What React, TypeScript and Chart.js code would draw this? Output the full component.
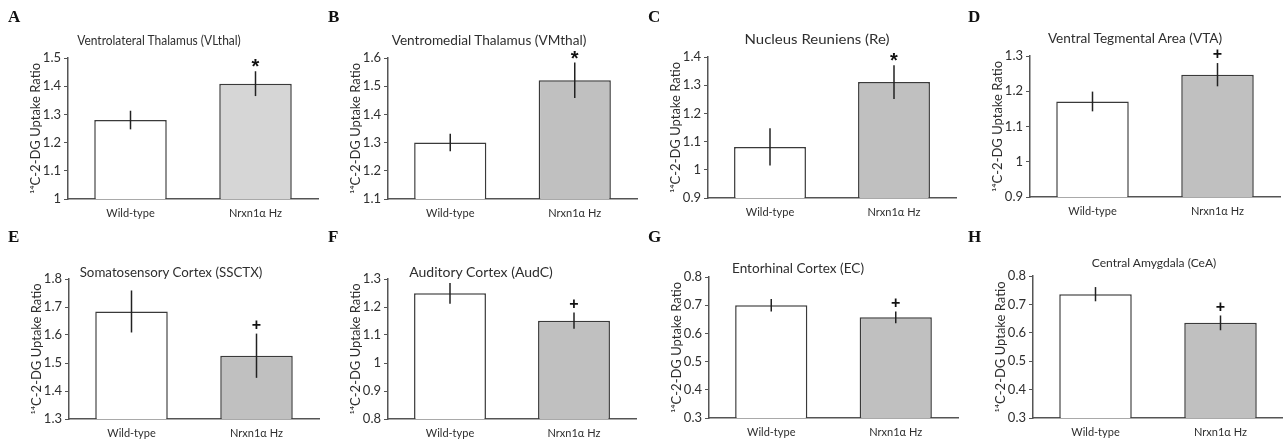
import React, { useEffect, useRef } from 'react';
import { Chart, registerables } from 'chart.js';

Chart.register(...registerables);

// ---------- data ----------
const panelLetters = ['A', 'B', 'C', 'D', 'E', 'F', 'G', 'H'];
const panelTitles = [
  'Ventrolateral Thalamus (VLthal)',
  'Ventromedial Thalamus (VMthal)',
  'Nucleus Reuniens (Re)',
  'Ventral Tegmental Area (VTA)',
  'Somatosensory Cortex (SSCTX)',
  'Auditory Cortex (AudC)',
  'Entorhinal Cortex (EC)',
  'Central Amygdala (CeA)',
];
const categories = ['Wild-type', 'Nrxn1α Hz'];
const wildTypeMeans = [1.28, 1.3, 1.081, 1.171, 1.684, 1.249, 0.7, 0.736];
const wildTypeErrors = [0.033, 0.031, 0.066, 0.028, 0.075, 0.037, 0.022, 0.025];
const nrxnMeans = [1.409, 1.521, 1.311, 1.247, 1.526, 1.151, 0.657, 0.635];
const nrxnErrors = [0.044, 0.063, 0.06, 0.033, 0.079, 0.029, 0.021, 0.026];
const yMins = [1, 1.1, 0.9, 0.9, 1.3, 0.8, 0.3, 0.3];
const yMaxs = [1.5, 1.6, 1.4, 1.3, 1.8, 1.3, 0.8, 0.8];
const yStep = 0.1;
const significance = ['*', '*', '*', '+', '+', '+', '+', '+'];
const yAxisTitle = '¹⁴C-2-DG Uptake Ratio';

// ---------- layout & style (page pixels) ----------
const layouts = [
  { x: 0, y: 0, w: 320, h: 220, L: 68, R: 318, T: 58, B: 199, tx: 159, ty: 41, tw: 164, ts: 13.5 },
  { x: 320, y: 0, w: 320, h: 220, L: 388, R: 637, T: 58, B: 199, tx: 489, ty: 40, tw: 195, ts: 14 },
  { x: 640, y: 0, w: 320, h: 220, L: 708, R: 956, T: 57, B: 198, tx: 817, ty: 39, tw: 145, ts: 14 },
  { x: 960, y: 0, w: 323, h: 220, L: 1030, R: 1280, T: 56, B: 197, tx: 1135, ty: 38, tw: 175, ts: 14 },
  { x: 0, y: 220, w: 320, h: 222, L: 69, R: 319, T: 279, B: 419, tx: 171, ty: 272, tw: 183, ts: 14 },
  { x: 320, y: 220, w: 320, h: 222, L: 388, R: 636, T: 279, B: 419, tx: 481, ty: 272, tw: 144, ts: 14 },
  { x: 640, y: 220, w: 320, h: 222, L: 709, R: 958, T: 277, B: 418, tx: 798, ty: 268, tw: 132, ts: 14 },
  { x: 960, y: 220, w: 323, h: 222, L: 1033, R: 1283, T: 276, B: 418, tx: 1154, ty: 263, tw: 125, ts: 12 },
];
const nrxnFills = ['#d6d6d6', '#c0c0c0', '#c0c0c0', '#c0c0c0', '#c0c0c0', '#c0c0c0', '#c0c0c0', '#c0c0c0'];
const FONT = 'Lato, "Open Sans", sans-serif';
const TEXT = '#2e2e2e';
const AXIS = '#555555';

function measure(text: string, size: number): number {
  const c = document.createElement('canvas').getContext('2d');
  if (!c) return 1;
  c.font = `${size}px Lato`;
  return c.measureText(text).width;
}

function Panel({ i }: { i: number }) {
  const ref = useRef<HTMLCanvasElement>(null);
  const lay = layouts[i];
  useEffect(() => {
    const canvas = ref.current;
    if (!canvas) return;
    const errorPlugin = {
      id: 'errorBars' + i,
      afterDatasetsDraw(chart: any) {
        const ctx = chart.ctx;
        const meta = chart.getDatasetMeta(0);
        const ys = chart.scales.y;
        const means = [wildTypeMeans[i], nrxnMeans[i]];
        const errs = [wildTypeErrors[i], nrxnErrors[i]];
        ctx.save();
        ctx.strokeStyle = '#222222';
        ctx.lineWidth = 1.5;
        meta.data.forEach((bar: any, k: number) => {
          const top = ys.getPixelForValue(means[k] + errs[k]);
          const bot = ys.getPixelForValue(means[k] - errs[k]);
          ctx.beginPath();
          ctx.moveTo(bar.x, top);
          ctx.lineTo(bar.x, bot);
          ctx.stroke();
        });
        const bar = meta.data[1];
        const top = ys.getPixelForValue(nrxnMeans[i] + nrxnErrors[i]);
        const sym = significance[i];
        ctx.fillStyle = '#111111';
        ctx.textAlign = 'center';
        ctx.textBaseline = 'middle';
        if (sym === '*') {
          ctx.font = 'bold 20px "Liberation Sans"';
          ctx.fillText(sym, bar.x, top - 3.5);
        } else {
          ctx.font = 'bold 16px "Liberation Sans"';
          ctx.fillText(sym, bar.x, top - 8);
        }
        ctx.restore();
      },
    };
    const yTitleSize = 13;
    const yTitleOffset = lay.L - lay.x - 32 - (yTitleSize * 1.2) / 2;
    const chart = new Chart(canvas, {
      type: 'bar',
      data: {
        labels: categories,
        datasets: [
          {
            data: [wildTypeMeans[i], nrxnMeans[i]],
            backgroundColor: ['#ffffff', nrxnFills[i]],
            borderColor: '#3a3a3a',
            borderWidth: 1.5,
            borderSkipped: false,
            barPercentage: 0.58,
            categoryPercentage: 1,
          },
        ],
      },
      options: {
        animation: false,
        responsive: false,
        layout: { padding: { top: lay.T - lay.y, right: lay.x + lay.w - lay.R, left: 0, bottom: 0 } },
        plugins: { legend: { display: false }, tooltip: { enabled: false }, title: { display: false } },
        scales: {
          x: {
            grid: { display: false, drawTicks: false },
            border: { display: true, color: AXIS, width: 1.5 },
            ticks: { color: TEXT, font: { family: FONT, size: 11 }, padding: 8 },
            afterFit: (s: any) => {
              s.height = lay.y + lay.h - lay.B;
            },
          },
          y: {
            min: yMins[i],
            max: yMaxs[i],
            ticks: {
              stepSize: yStep,
              color: TEXT,
              font: { family: FONT, size: 13 },
              padding: 3,
              callback: (v: any) => String(parseFloat(Number(v).toFixed(2))),
            },
            grid: { display: true, drawOnChartArea: false, drawTicks: true, tickLength: 4, color: AXIS, lineWidth: 1 },
            border: { display: true, color: AXIS, width: 1.5 },
            title: {
              display: true,
              text: yAxisTitle,
              color: TEXT,
              font: { family: FONT, size: yTitleSize },
              padding: { top: yTitleOffset, bottom: 0 },
            },
            afterFit: (s: any) => {
              s.width = lay.L - lay.x;
            },
          },
        },
      },
      plugins: [errorPlugin],
    } as any);
    return () => chart.destroy();
  }, [i]);

  const natural = measure(panelTitles[i], lay.ts);
  const sx = lay.tw / natural;
  return (
    <>
      <canvas
        ref={ref}
        width={lay.w}
        height={lay.h}
        style={{ position: 'absolute', left: lay.x, top: lay.y, width: lay.w, height: lay.h }}
      />
      <div
        style={{
          position: 'absolute',
          left: lay.x + 8,
          top: lay.y + 8,
          font: 'bold 17px "Liberation Serif", serif',
          lineHeight: '17px',
          color: '#111',
        }}
      >
        {panelLetters[i]}
      </div>
      <div
        style={{
          position: 'absolute',
          left: lay.tx,
          top: lay.ty,
          transform: `translate(-50%, -50%) scaleX(${sx})`,
          whiteSpace: 'nowrap',
          fontFamily: FONT,
          fontSize: lay.ts,
          lineHeight: 1,
          color: TEXT,
        }}
      >
        {panelTitles[i]}
      </div>
    </>
  );
}

export default function App() {
  return (
    <div style={{ position: 'absolute', left: 0, top: 0, width: 1283, height: 442, background: '#ffffff', overflow: 'hidden' }}>
      {layouts.map((_, i) => (
        <Panel key={i} i={i} />
      ))}
    </div>
  );
}
